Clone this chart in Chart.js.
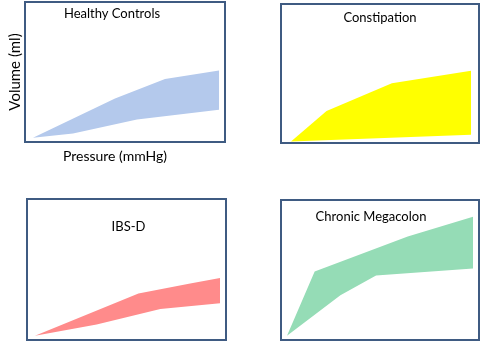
<!DOCTYPE html>
<html>
<head>
<meta charset="utf-8">
<script src="https://cdn.jsdelivr.net/npm/chart.js@4"></script>
<style>
html, body { margin: 0; padding: 0; background: #fff; }
#wrap { position: relative; width: 480px; height: 341px; overflow: hidden; }
.panel { position: absolute; }
</style>
</head>
<body>
<div id="wrap">
  <div class="panel" style="left:0;top:0;width:240px;height:170px"><canvas id="healthy"></canvas></div>
  <div class="panel" style="left:240px;top:0;width:240px;height:170px"><canvas id="constipation"></canvas></div>
  <div class="panel" style="left:0;top:170px;width:240px;height:171px"><canvas id="ibsd"></canvas></div>
  <div class="panel" style="left:240px;top:170px;width:240px;height:171px"><canvas id="megacolon"></canvas></div>
</div>
<script>
// titulos dos paineis e dos eixos
const panelTitles = ['Healthy Controls', 'Constipation', 'IBS-D', 'Chronic Megacolon'];
const xAxisTitle = 'Pressure (mmHg)';
const yAxisTitle = 'Volume (ml)';

// faixa de volume x pressao (escala 0-100 em cada painel), limite superior e inferior
const healthyUpper = [{x: 4, y: 3}, {x: 45, y: 31}, {x: 70, y: 45}, {x: 97, y: 51}];
const healthyLower = [{x: 4, y: 3}, {x: 24, y: 6}, {x: 56, y: 16}, {x: 97, y: 23}];
const constipationUpper = [{x: 5, y: 1}, {x: 23, y: 23}, {x: 56, y: 43}, {x: 96, y: 52}];
const constipationLower = [{x: 5, y: 1}, {x: 96, y: 6}];
const ibsdUpper = [{x: 4, y: 3}, {x: 56, y: 33}, {x: 82, y: 40}, {x: 97, y: 44}];
const ibsdLower = [{x: 4, y: 3}, {x: 35, y: 11}, {x: 67, y: 22}, {x: 97, y: 26}];
const megacolonUpper = [{x: 3, y: 3}, {x: 17, y: 49}, {x: 64, y: 74}, {x: 97, y: 88}];
const megacolonLower = [{x: 3, y: 3}, {x: 30, y: 32}, {x: 48, y: 46}, {x: 97, y: 51}];

const FONT = 'Lato, "Open Sans", sans-serif';

// desenha a moldura do painel, o titulo dentro dela e (no primeiro) o titulo do eixo x
const panelFrame = {
    id: 'panelFrame',
    afterDraw(chart, args, opts) {
        let ctx = chart.ctx;
        let a = chart.chartArea;
        ctx.save();
        ctx.strokeStyle = '#3f5b82';
        ctx.lineWidth = 2;
        ctx.strokeRect(a.left, a.top, a.right - a.left, a.bottom - a.top);
        ctx.fillStyle = '#000';
        ctx.font = '13px ' + FONT;
        ctx.textAlign = 'center';
        ctx.textBaseline = 'middle';
        ctx.fillText(opts.text, (a.left + a.right) / 2 + opts.dx, a.top + opts.dy);
        if (opts.xTitle) {
            ctx.font = '14px ' + FONT;
            ctx.fillText(opts.xTitle, (a.left + a.right) / 2 - 10, a.bottom + 14);
        }
        ctx.restore();
    }
};

function makePanel(id, upper, lower, color, title, pad, titleDx, titleDy, withAxes) {
    let canvas = document.getElementById(id);
    let h = canvas.parentNode.clientHeight;
    return new Chart(canvas.getContext('2d'), {
        type: 'line',
        data: {
            datasets: [{
                data: upper,
                borderColor: 'transparent',
                borderWidth: 0,
                pointRadius: 0,
                fill: false
            }, {
                data: lower,
                borderColor: 'transparent',
                borderWidth: 0,
                pointRadius: 0,
                backgroundColor: color,
                fill: '-1'
            }]
        },
        options: {
            responsive: true,
            maintainAspectRatio: false,
            animation: false,
            events: [],
            layout: { padding: pad },
            scales: {
                x: {
                    type: 'linear',
                    min: 0,
                    max: 100,
                    display: withAxes,
                    grid: { display: false },
                    border: { display: false },
                    ticks: { display: false },
                    afterFit: function(scale) { if (withAxes) scale.height = h - 142; }
                },
                y: {
                    min: 0,
                    max: 100,
                    display: withAxes,
                    grid: { display: false },
                    border: { display: false },
                    ticks: { display: false },
                    title: {
                        display: withAxes,
                        text: yAxisTitle,
                        color: '#000',
                        font: { family: FONT, size: 15 },
                        padding: { top: 6, bottom: 0 }
                    },
                    afterFit: function(scale) { if (withAxes) scale.width = 25; }
                }
            },
            plugins: {
                legend: { display: false },
                tooltip: { enabled: false },
                panelFrame: { text: title, dx: titleDx, dy: titleDy, xTitle: withAxes ? xAxisTitle : null }
            }
        },
        plugins: [panelFrame]
    });
}

makePanel('healthy', healthyUpper, healthyLower, '#b4c9ec', panelTitles[0],
    { left: 0, top: 2, right: 15, bottom: 0 }, -13, 12, true);
makePanel('constipation', constipationUpper, constipationLower, '#ffff00', panelTitles[1],
    { left: 41, top: 4, right: 1, bottom: 27 }, 0, 14, false);
makePanel('ibsd', ibsdUpper, ibsdLower, '#ff8b8b', panelTitles[2],
    { left: 27, top: 29, right: 14, bottom: 1 }, 2, 28, false);
makePanel('megacolon', megacolonUpper, megacolonLower, '#95dcb6', panelTitles[3],
    { left: 41, top: 30, right: 1, bottom: 1 }, -9, 17, false);
</script>
</body>
</html>
